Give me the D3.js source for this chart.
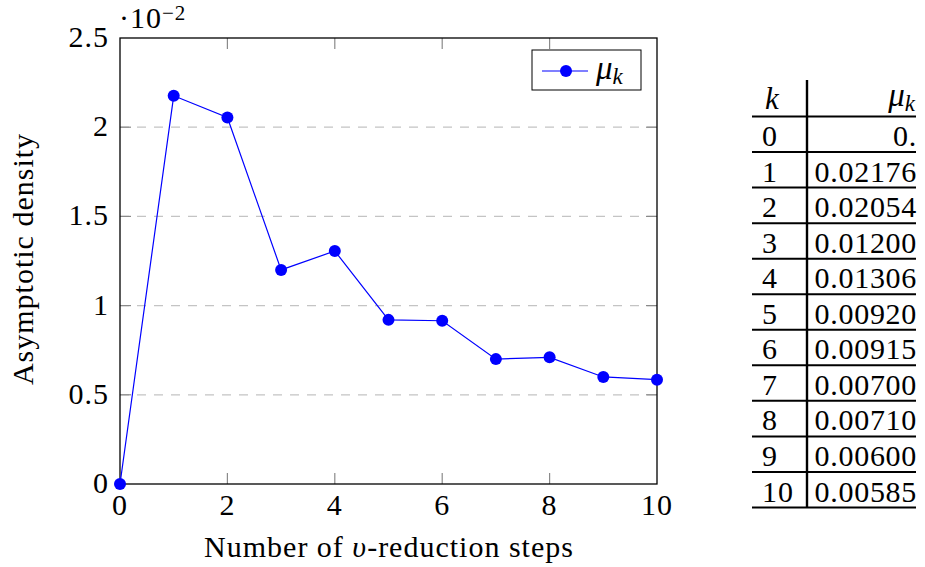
<!DOCTYPE html>
<html lang="en">
<head>
    <meta charset="UTF-8">
    <title>Asymptotic density</title>
    <script src="https://d3js.org/d3.v7.min.js"></script>
    <style>
        body { margin: 0; background: #fff; }
        text { font-family: "Liberation Serif", "DejaVu Serif", serif; fill: #000; }
    </style>
</head>
<body>
    <svg width="925" height="567"></svg>

    <script>
        // data
        const steps = [0, 1, 2, 3, 4, 5, 6, 7, 8, 9, 10];
        const mu = [0, 0.02176, 0.02054, 0.01200, 0.01306, 0.00920, 0.00915, 0.00700, 0.00710, 0.00600, 0.00585];
        const xTicks = [0, 2, 4, 6, 8, 10];
        const yTicks = [0, 0.005, 0.01, 0.015, 0.02, 0.025];

        const svg = d3.select('svg');
        const fs = 30, ls = '1px', sub = 21;

        const x = d3.scaleLinear().domain([0, 10]).range([120, 657]);
        const y = d3.scaleLinear().domain([0, 0.025]).range([484, 38]);

        // grid lines
        svg.append('g')
            .selectAll('line')
            .data(yTicks.filter(d => d > 0 && d < 0.025))
            .join('line')
            .attr('x1', x(0)).attr('x2', x(10))
            .attr('y1', d => y(d)).attr('y2', d => y(d))
            .attr('stroke', '#c4c4c4')
            .attr('stroke-width', 1.2)
            .attr('stroke-dasharray', '9,8');

        // tick marks, inward on all sides
        const tickLen = 11;
        const ticks = svg.append('g').attr('stroke', '#8a8a8a').attr('stroke-width', 1.2);
        xTicks.slice(1, -1).forEach(d => {
            ticks.append('line').attr('x1', x(d)).attr('x2', x(d)).attr('y1', y(0)).attr('y2', y(0) - tickLen);
            ticks.append('line').attr('x1', x(d)).attr('x2', x(d)).attr('y1', y(0.025)).attr('y2', y(0.025) + tickLen);
        });
        yTicks.slice(1, -1).forEach(d => {
            ticks.append('line').attr('x1', x(0)).attr('x2', x(0) + tickLen).attr('y1', y(d)).attr('y2', y(d));
            ticks.append('line').attr('x1', x(10)).attr('x2', x(10) - tickLen).attr('y1', y(d)).attr('y2', y(d));
        });

        // frame
        svg.append('rect')
            .attr('x', x(0)).attr('y', y(0.025))
            .attr('width', x(10) - x(0)).attr('height', y(0) - y(0.025))
            .attr('fill', 'none').attr('stroke', '#000').attr('stroke-width', 1.3);

        // tick labels
        svg.append('g')
            .selectAll('text')
            .data(xTicks)
            .join('text')
            .attr('x', d => x(d))
            .attr('y', y(0) + 31)
            .attr('text-anchor', 'middle')
            .attr('font-size', fs)
            .attr('letter-spacing', ls)
            .text(d => d);

        svg.append('g')
            .selectAll('text')
            .data(yTicks)
            .join('text')
            .attr('x', x(0) - 11)
            .attr('y', d => y(d) + 9)
            .attr('text-anchor', 'end')
            .attr('font-size', fs)
            .attr('letter-spacing', ls)
            .text(d => d3.format('~g')(+(d * 100).toFixed(2)));

        // scale factor
        const sf = svg.append('text').attr('x', 119).attr('y', 28).attr('font-size', fs).attr('letter-spacing', ls);
        sf.append('tspan').text('·10');
        sf.append('tspan').attr('dy', -8).attr('font-size', sub).text('−2');

        // axis labels
        const xl = svg.append('text')
            .attr('x', 389).attr('y', 557)
            .attr('text-anchor', 'middle')
            .attr('font-size', fs)
            .attr('letter-spacing', ls);
        xl.append('tspan').text('Number of ');
        xl.append('tspan').attr('font-style', 'italic').text('υ');
        xl.append('tspan').text('-reduction steps');

        svg.append('text')
            .attr('transform', `translate(33,${(y(0) + y(0.025)) / 2 - 2}) rotate(-90)`)
            .attr('text-anchor', 'middle')
            .attr('font-size', fs)
            .attr('letter-spacing', ls)
            .text('Asymptotic density');

        // series
        const blue = '#0000ff';
        svg.append('path')
            .datum(steps)
            .attr('fill', 'none')
            .attr('stroke', blue)
            .attr('stroke-width', 1.2)
            .attr('d', d3.line().x(d => x(d)).y(d => y(mu[d])));

        svg.append('g')
            .selectAll('circle')
            .data(steps)
            .join('circle')
            .attr('cx', d => x(d))
            .attr('cy', d => y(mu[d]))
            .attr('r', 6)
            .attr('fill', blue);

        // legend
        const lg = svg.append('g').attr('transform', 'translate(532,50)');
        lg.append('rect').attr('width', 109).attr('height', 40)
            .attr('fill', '#fff').attr('stroke', '#000').attr('stroke-width', 1);
        lg.append('line').attr('x1', 10).attr('x2', 56).attr('y1', 21).attr('y2', 21)
            .attr('stroke', blue).attr('stroke-width', 1.2);
        lg.append('circle').attr('cx', 34).attr('cy', 21).attr('r', 6).attr('fill', blue);
        const lt = lg.append('text').attr('x', 64).attr('y', 29).attr('font-size', 33).attr('font-style', 'italic');
        lt.append('tspan').text('μ');
        lt.append('tspan').attr('dy', 5).attr('font-size', 23).text('k');

        // table
        const tx0 = 752, tx1 = 916, tsep = 807;
        const row = d3.scaleLinear().domain([0, 11]).range([116.5, 507.5]);
        const tab = svg.append('g');
        tab.append('line').attr('x1', tsep).attr('x2', tsep).attr('y1', 80).attr('y2', row(11))
            .attr('stroke', '#000').attr('stroke-width', 2.4);
        tab.selectAll('line.h')
            .data(d3.range(0, 12))
            .join('line')
            .attr('class', 'h')
            .attr('x1', tx0).attr('x2', tx1)
            .attr('y1', d => row(d)).attr('y2', d => row(d))
            .attr('stroke', '#000').attr('stroke-width', 2);

        tab.append('text').attr('x', 765).attr('y', row(0) - 8)
            .attr('font-size', fs + 1).attr('font-style', 'italic').text('k');
        const hm = tab.append('text').attr('x', tx1 - 1).attr('y', row(0) - 11)
            .attr('font-size', 33).attr('font-style', 'italic').attr('text-anchor', 'end');
        hm.append('tspan').text('μ');
        hm.append('tspan').attr('dy', 5).attr('font-size', 23).text('k');

        tab.selectAll('text.k')
            .data(steps)
            .join('text')
            .attr('class', 'k')
            .attr('x', 762)
            .attr('y', (d, i) => row(i + 1) - 6)
            .attr('font-size', fs)
            .attr('letter-spacing', ls)
            .text(d => d);

        tab.selectAll('text.m')
            .data(mu)
            .join('text')
            .attr('class', 'm')
            .attr('x', tx1 + 1)
            .attr('y', (d, i) => row(i + 1) - 6)
            .attr('text-anchor', 'end')
            .attr('font-size', fs)
            .attr('letter-spacing', '0.7px')
            .text(d => d === 0 ? '0.' : d3.format('.5f')(d));
    </script>
</body>
</html>
